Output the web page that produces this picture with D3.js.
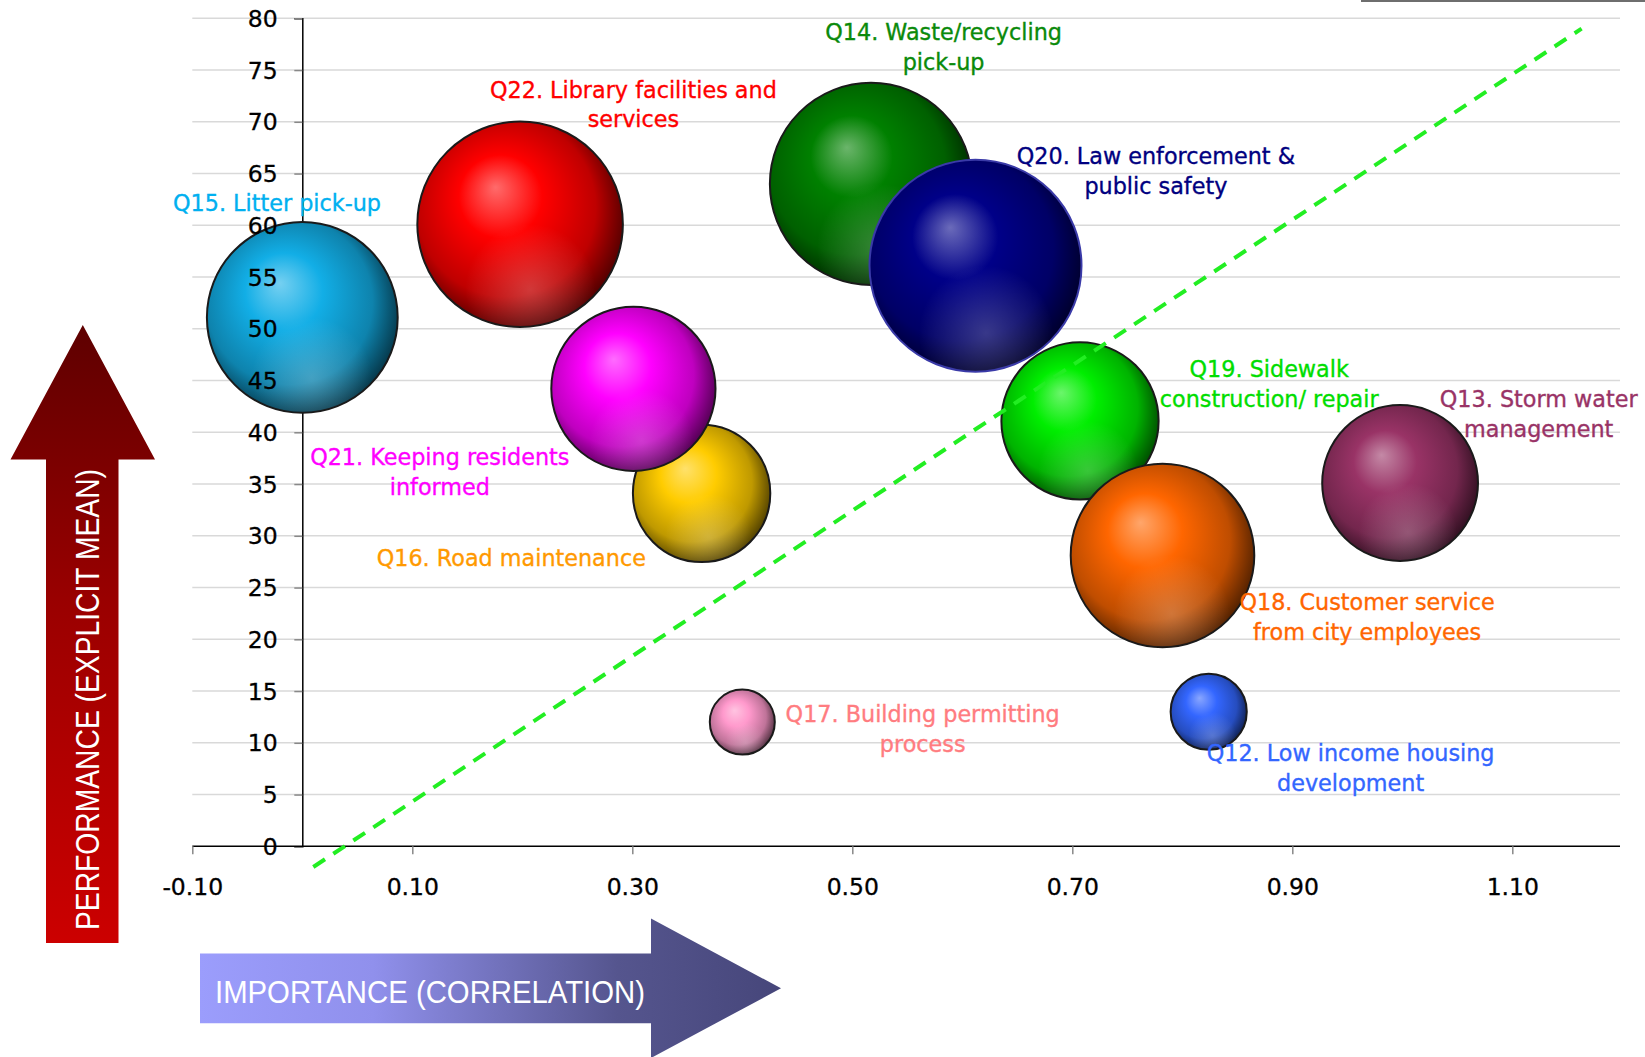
<!DOCTYPE html>
<html>
<head>
<meta charset="utf-8">
<script src="https://cdn.jsdelivr.net/npm/d3@7"></script>
<style>
  body { margin: 0; background: #fff; }
  svg { display: block; }
</style>
</head>
<body>
<div id="graph"></div>
<script>
// Datos (orden = orden de dibujo)
const ids = ["Q14", "Q20", "Q22", "Q15", "Q16", "Q21", "Q19", "Q18", "Q13", "Q17", "Q12"]
const labels = [
  "Q14. Waste/recycling\npick-up",
  "Q20. Law enforcement &\npublic safety",
  "Q22. Library facilities and\nservices",
  "Q15. Litter pick-up",
  "Q16. Road maintenance",
  "Q21. Keeping residents\ninformed",
  "Q19. Sidewalk\nconstruction/ repair",
  "Q18. Customer service\nfrom city employees",
  "Q13. Storm water\nmanagement",
  "Q17. Building permitting\nprocess",
  "Q12. Low income housing\ndevelopment"
]
const importance = [0.517, 0.612, 0.198, 0.000, 0.363, 0.301, 0.707, 0.782, 0.998, 0.400, 0.824]
const performance = [64.0, 56.1, 60.1, 51.1, 34.1, 44.2, 41.1, 28.1, 35.1, 12.0, 13.0]
const bubbleSize = [0.91, 1.00, 0.94, 0.81, 0.42, 0.60, 0.55, 0.75, 0.54, 0.094, 0.129]

const xTicks = [-0.1, 0.1, 0.3, 0.5, 0.7, 0.9, 1.1]
const yTicks = [0, 5, 10, 15, 20, 25, 30, 35, 40, 45, 50, 55, 60, 65, 70, 75, 80]

// Línea diagonal (importancia, desempeño)
const diagonalX = [0.01, 1.163]
const diagonalY = [-2, 79]

// Estilos
const bubbleColors = ["#008000", "#000088", "#ff0000", "#12aee6", "#ffcc00", "#ff00ff", "#00ee00", "#ff6600", "#993366", "#ff99cc", "#3366ff"]
const labelColors = ["#0a8a0a", "#000080", "#ff0000", "#00b0f0", "#ff9900", "#ff00ff", "#00dd00", "#ff6600", "#993366", "#ff7c80", "#3366ff"]
// Posición de las etiquetas en unidades de datos (centro, línea base)
const labelAt = [[0.583, 77.9], [0.776, 65.9], [0.301, 72.3], [-0.023, 61.4], [0.190, 27.1], [0.125, 36.8],
                 [0.879, 45.3], [0.968, 22.8], [1.124, 42.4], [0.564, 12.0], [0.953, 8.2]]

const width = 1645
const height = 1057

const svg = d3.select("#graph")
  .append("svg")
    .attr("width", width)
    .attr("height", height)

const defs = svg.append("defs")

const xScale = d3.scaleLinear().domain([-0.1, 1.2]).range([192.3, 1622.3])
const yScale = d3.scaleLinear().domain([0, 80]).range([846.3, 18.3])
const rScale = d3.scaleSqrt().domain([0, 1]).range([0, 106])

// Rejilla
const grid = svg.append("g")
grid.selectAll("line")
  .data(yTicks.slice(1))
  .join("line")
    .attr("x1", xScale(-0.1))
    .attr("x2", 1620)
    .attr("y1", d => yScale(d))
    .attr("y2", d => yScale(d))
    .attr("stroke", "#d9d9d9")
    .attr("stroke-width", 1.5)

// Ejes
const tickFont = "DejaVu Sans, sans-serif"
const fmt = d => d3.format(".2f")(d).replace("\u2212", "-")
const yAxis = svg.append("g")
  .attr("transform", `translate(${xScale(0)},0)`)
  .call(d3.axisLeft(yScale).tickValues(yTicks).tickSize(8).tickFormat(""))
yAxis.select(".domain").attr("stroke", "#000").attr("stroke-width", 1.5)
yAxis.selectAll(".tick line").attr("stroke", "#888").attr("stroke-width", 1.5)

const xAxis = svg.append("g")
  .attr("transform", `translate(0,${yScale(0)})`)
  .call(d3.axisBottom(xScale).tickValues(xTicks).tickSize(8).tickSizeOuter(0).tickFormat(fmt))
xAxis.select(".domain").attr("d", `M${xScale(-0.1)},0H1620`).attr("stroke", "#000").attr("stroke-width", 1.5)
xAxis.selectAll(".tick line").attr("stroke", "#888").attr("stroke-width", 1.5)
xAxis.selectAll(".tick text")
  .attr("y", 49)
  .attr("dy", 0)
  .attr("font-family", tickFont)
  .attr("font-size", 23.5)
  .attr("fill", "#000")
  .attr("stroke", "#000")
  .attr("stroke-width", 0.3)

// Gradientes de las esferas
const mix = (a, b, t) => d3.interpolateRgb(a, b)(t)
bubbleColors.forEach((c, i) => {
  const g = defs.append("radialGradient")
    .attr("id", `sphere-${i}`)
    .attr("cx", 0.45).attr("cy", 0.45).attr("r", 0.58)
    .attr("fx", 0.38).attr("fy", 0.32)
  g.append("stop").attr("offset", 0).attr("stop-color", mix(c, "#fff", 0.42))
  g.append("stop").attr("offset", 0.35).attr("stop-color", c)
  g.append("stop").attr("offset", 0.75).attr("stop-color", mix(c, "#000", 0.25))
  g.append("stop").attr("offset", 1).attr("stop-color", mix(c, "#000", 0.7))
})
const shine = defs.append("radialGradient")
  .attr("id", "shine")
  .attr("cx", 0.55).attr("cy", 0.82).attr("r", 0.32)
shine.append("stop").attr("offset", 0).attr("stop-color", "#fff").attr("stop-opacity", 0.22)
shine.append("stop").attr("offset", 1).attr("stop-color", "#fff").attr("stop-opacity", 0)

// Burbujas
const bubbles = svg.append("g")
ids.forEach((id, i) => {
  const cx = xScale(importance[i])
  const cy = yScale(performance[i])
  const r = rScale(bubbleSize[i])
  bubbles.append("circle")
    .attr("cx", cx).attr("cy", cy).attr("r", r)
    .attr("fill", `url(#sphere-${i})`)
    .attr("stroke", id === "Q20" ? "#3a3aa8" : "#1a1a1a")
    .attr("stroke-width", 2)
  bubbles.append("circle")
    .attr("cx", cx).attr("cy", cy).attr("r", r - 1)
    .attr("fill", "url(#shine)")
})

// Etiquetas del eje Y (encima de las burbujas)
svg.append("g")
  .selectAll("text")
  .data(yTicks)
  .join("text")
    .attr("x", xScale(0) - 24.6)
    .attr("y", d => yScale(d))
    .attr("dy", "0.36em")
    .attr("text-anchor", "end")
    .attr("font-family", tickFont)
    .attr("font-size", 23.5)
    .attr("stroke", "#000")
    .attr("stroke-width", 0.3)
    .text(d => d)

// Línea diagonal
const line = d3.line().x(d => xScale(d[0])).y(d => yScale(d[1]))
svg.append("path")
  .attr("d", line(d3.zip(diagonalX, diagonalY)))
  .attr("fill", "none")
  .attr("stroke", "#22ee22")
  .attr("stroke-width", 4)
  .attr("stroke-dasharray", "14,10")

// Etiquetas de datos
const labelG = svg.append("g")
labels.forEach((txt, i) => {
  const t = labelG.append("text")
    .attr("x", xScale(labelAt[i][0]))
    .attr("y", yScale(labelAt[i][1]))
    .attr("text-anchor", "middle")
    .attr("font-family", "DejaVu Sans, sans-serif")
    .attr("font-size", 22.3)
    .attr("fill", labelColors[i])
    .attr("stroke", labelColors[i])
    .attr("stroke-width", 0.35)
  txt.split("\n").forEach((s, j) => {
    t.append("tspan")
      .attr("x", xScale(labelAt[i][0]))
      .attr("dy", j === 0 ? 0 : 29.5)
      .text(s)
  })
})

// Flecha vertical (desempeño)
const gradY = defs.append("linearGradient")
  .attr("id", "arrowY").attr("x1", 0).attr("y1", 1).attr("x2", 0).attr("y2", 0)
gradY.append("stop").attr("offset", 0).attr("stop-color", "#cc0000")
gradY.append("stop").attr("offset", 0.55).attr("stop-color", "#9a0000")
gradY.append("stop").attr("offset", 1).attr("stop-color", "#5e0000")
svg.append("path")
  .attr("d", "M46,943 L46,459.5 L10.5,459.5 L82.8,325 L155,459.5 L118.5,459.5 L118.5,943 Z")
  .attr("fill", "url(#arrowY)")
svg.append("text")
  .attr("transform", "translate(99,699.5) rotate(-90)")
  .attr("text-anchor", "middle")
  .attr("font-family", "Liberation Sans Narrow, Liberation Sans, sans-serif")
  .attr("font-size", 33)
  .attr("fill", "#fff")
  .attr("textLength", 461)
  .attr("lengthAdjust", "spacingAndGlyphs")
  .text("PERFORMANCE (EXPLICIT MEAN)")

// Flecha horizontal (importancia)
const gradX = defs.append("linearGradient")
  .attr("id", "arrowX").attr("gradientUnits", "userSpaceOnUse")
  .attr("x1", 199).attr("y1", 0).attr("x2", 781).attr("y2", 0)
gradX.append("stop").attr("offset", 0).attr("stop-color", "#9b9dfc")
gradX.append("stop").attr("offset", 0.3).attr("stop-color", "#9090ec")
gradX.append("stop").attr("offset", 0.72).attr("stop-color", "#55558e")
gradX.append("stop").attr("offset", 1).attr("stop-color", "#46467a")
svg.append("path")
  .attr("d", "M200,953.5 L651,953.5 L651,918.5 L781,988.3 L651,1058 L651,1023.3 L200,1023.3 Z")
  .attr("fill", "url(#arrowX)")
svg.append("text")
  .attr("x", 215)
  .attr("y", 1003.3)
  .attr("font-family", "Liberation Sans Narrow, Liberation Sans, sans-serif")
  .attr("font-size", 32)
  .attr("fill", "#fff")
  .attr("textLength", 430)
  .attr("lengthAdjust", "spacingAndGlyphs")
  .text("IMPORTANCE (CORRELATION)")

// Borde superior derecho
svg.append("rect")
  .attr("x", 1361).attr("y", 0).attr("width", width - 1361).attr("height", 2)
  .attr("fill", "#6e6e6e")
</script>
</body>
</html>
